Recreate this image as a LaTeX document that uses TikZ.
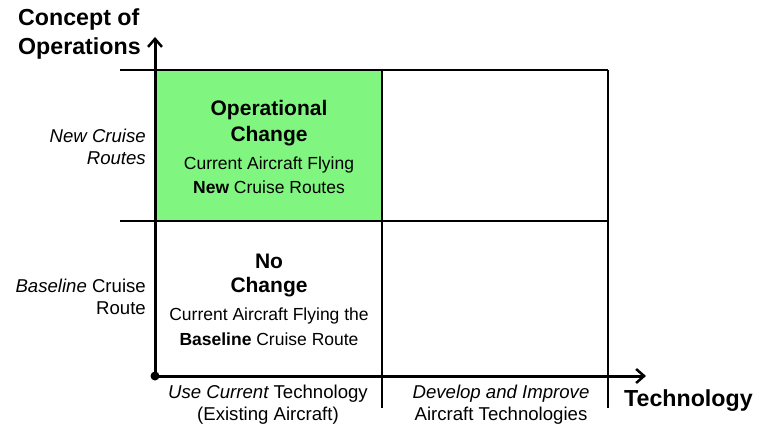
\documentclass[tikz,border=0pt]{standalone}
\usepackage{fontspec}
\setmainfont{Liberation Sans}
\usetikzlibrary{arrows.meta}
\definecolor{cellgreen}{RGB}{128,245,128}
\tikzset{
  gridline/.style={line width=2pt, black},
  axisline/.style={line width=3pt, black, -{Straight Barb[length=8pt,width=14pt,line width=2.5pt]}},
  body/.style={font=\fontsize{17.5}{22}\selectfont, align=center, inner sep=0pt},
  axlabel/.style={font=\fontsize{18.6}{22}\selectfont, align=center, inner sep=0pt},
  title/.style={font=\fontsize{21}{26}\selectfont\bfseries, align=center, inner sep=0pt},
  axtitle/.style={font=\fontsize{23.2}{29}\selectfont\bfseries, inner sep=0pt},
  side/.style={font=\fontsize{18.6}{22}\selectfont, align=right, inner sep=0pt},
}
\begin{document}
\begin{tikzpicture}[x=1pt,y=-1pt]
\useasboundingbox (0,0) rectangle (759,427);
% green cell
\fill[cellgreen] (155,70) rectangle (382,221);
% grid
\draw[gridline] (120,70) -- (608,70);
\draw[gridline] (120,221) -- (608,221);
\draw[gridline] (382,70) -- (382,408);
\draw[gridline] (608,70) -- (608,408);
% axes
\coordinate (o) at (155,376);
\coordinate (xend) at (646,376);
\coordinate (yend) at (155,37);
\draw[axisline] (o) -- (xend);
\draw[axisline] (o) -- (yend);
\fill (o) circle (4.5);
% axis titles
\node[axtitle, anchor=west] (cop1) at (18,20) {Concept of};
\node[axtitle, anchor=west] (cop2) at (18,49) {Operations};
\node[axtitle, anchor=west] (tech) at (624,401) {Technology};
% left labels
\node[side, anchor=east] (ncr1) at (146,136) {\itshape New Cruise};
\node[side, anchor=east] (ncr2) at (146,158) {\itshape Routes};
\node[side, anchor=east] (bcr1) at (146,286) {\itshape Baseline\upshape{} Cruise};
\node[side, anchor=east] (bcr2) at (146,308) {Route};
% bottom labels
\node[axlabel] (uct1) at (268,394) {\itshape Use Current\upshape{} Technology};
\node[axlabel] (uct2) at (268,416) {(Existing Aircraft)};
\node[axlabel] (dit1) at (501,394) {\itshape Develop and Improve};
\node[axlabel] (dit2) at (501,416) {Aircraft Technologies};
% operational change cell
\node[title] (oc1) at (269,110) {Operational};
\node[title] (oc2) at (269,136) {Change};
\node[body] (oc3) at (269,165) {Current Aircraft Flying};
\node[body] (oc4) at (269,187) {\bfseries New\mdseries{} Cruise Routes};
% no change cell
\node[title] (nc1) at (269,261) {No};
\node[title] (nc2) at (269,287) {Change};
\node[body] (nc3) at (269,316) {Current Aircraft Flying the};
\node[body] (nc4) at (269,339) {\bfseries Baseline\mdseries{} Cruise Route};
\end{tikzpicture}
\end{document}
